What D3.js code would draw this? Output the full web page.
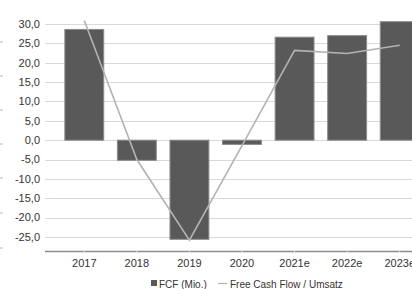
<!DOCTYPE html>
<html>
<head>
<meta charset="utf-8">
<script src="https://cdn.jsdelivr.net/npm/d3@7"></script>
<style>
  html, body { margin: 0; padding: 0; background: #fff; overflow: hidden; }
  svg { display: block; font-family: "Liberation Sans", Arial, sans-serif; }
</style>
</head>
<body>
<svg id="chart" width="412" height="289"></svg>
<script>
const years = ["2017", "2018", "2019", "2020", "2021e", "2022e", "2023e"]
const fcf = [28.6, -5.2, -25.6, -1.1, 26.6, 27.0, 30.6]
const fcfRatio = [30.9, -5.0, -25.8, -1.4, 23.2, 22.4, 24.5]
const yTicks = [30, 25, 20, 15, 10, 5, 0, -5, -10, -15, -20, -25]
const legendNames = ["FCF (Mio.)", "Free Cash Flow / Umsatz"]

const width = 412
const height = 289
const svg = d3.select("#chart")

// plot is wider than the shot, last category is cut at the right edge
const x = d3.scaleBand()
  .domain(years)
  .range([58, 426])
  .paddingInner(0.26)
  .paddingOuter(0.13)

const y = d3.scaleLinear()
  .domain([-25, 30])
  .range([237, 24])

const fmt = v => d3.format(".1f")(v).replace(".", ",").replace("−", "-")

// faint remains of a cut-off secondary axis on the left
svg.append("g")
  .selectAll("line")
  .data([42, 76, 110, 144, 178, 213, 248])
  .enter()
  .append("line")
  .attr("x1", 0).attr("x2", 3)
  .attr("y1", d => d).attr("y2", d => d)
  .attr("stroke", "#b8b8b8")
  .attr("stroke-width", 1)

// grid
svg.append("g")
  .selectAll("line")
  .data(yTicks)
  .enter()
  .append("line")
  .attr("x1", 45).attr("x2", width)
  .attr("y1", d => Math.round(y(d)) + 0.5)
  .attr("y2", d => Math.round(y(d)) + 0.5)
  .attr("stroke", "#d9d9d9")
  .attr("stroke-width", 1)

svg.append("g")
  .selectAll("text")
  .data(yTicks)
  .enter()
  .append("text")
  .attr("x", 40)
  .attr("y", d => y(d))
  .attr("dy", "0.35em")
  .attr("text-anchor", "end")
  .style("font-size", "11px")
  .attr("fill", "#333")
  .text(fmt)

// bars
svg.append("g")
  .selectAll("rect")
  .data(years)
  .enter()
  .append("rect")
  .attr("x", d => x(d))
  .attr("width", x.bandwidth())
  .attr("y", (d, i) => y(Math.max(0, fcf[i])))
  .attr("height", (d, i) => Math.abs(y(fcf[i]) - y(0)))
  .attr("fill", "#595959")
  .attr("stroke", "#8c8c8c")
  .attr("stroke-width", 1)

// ratio line
const line = d3.line()
  .x((d, i) => x(years[i]) + x.bandwidth() / 2)
  .y(d => y(d))

svg.append("path")
  .datum(fcfRatio)
  .attr("d", line)
  .attr("fill", "none")
  .attr("stroke", "#b3b3b3")
  .attr("stroke-width", 1.6)

// x axis
const axisY = 251.5
svg.append("line")
  .attr("x1", 45).attr("x2", width)
  .attr("y1", axisY).attr("y2", axisY)
  .attr("stroke", "#8c8c8c")
  .attr("stroke-width", 1.5)

svg.append("g")
  .selectAll("line")
  .data(years)
  .enter()
  .append("line")
  .attr("x1", d => x(d) + x.bandwidth() / 2)
  .attr("x2", d => x(d) + x.bandwidth() / 2)
  .attr("y1", axisY - 1).attr("y2", axisY + 1)
  .attr("stroke", "#e0e0e0")
  .attr("stroke-width", 1)

svg.append("g")
  .selectAll("text")
  .data(years)
  .enter()
  .append("text")
  .attr("x", d => x(d) + x.bandwidth() / 2)
  .attr("y", 267)
  .attr("text-anchor", "middle")
  .style("font-size", "11px")
  .attr("fill", "#333")
  .text(d => d)

// legend
const legend = svg.append("g").attr("transform", "translate(0,288)")
legend.append("rect")
  .attr("x", 151).attr("y", -8)
  .attr("width", 6).attr("height", 6)
  .attr("fill", "#595959")
legend.append("text")
  .attr("x", 159).attr("y", 0)
  .style("font-size", "10px")
  .attr("fill", "#333")
  .text(legendNames[0])
legend.append("line")
  .attr("x1", 218).attr("x2", 227)
  .attr("y1", -4.5).attr("y2", -4.5)
  .attr("stroke", "#b3b3b3")
  .attr("stroke-width", 1.2)
legend.append("text")
  .attr("x", 230).attr("y", 0)
  .style("font-size", "10px")
  .attr("fill", "#333")
  .text(legendNames[1])
</script>
</body>
</html>
